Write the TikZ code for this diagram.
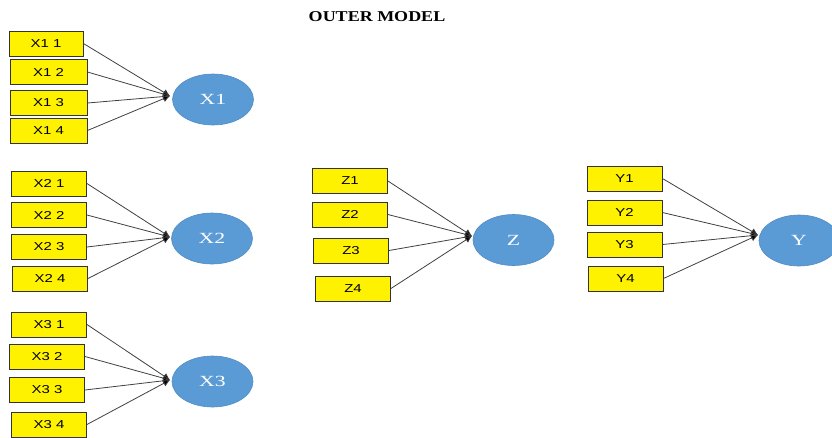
\documentclass[tikz,border=0pt]{standalone}
\usepackage{fontspec}
\setmainfont{Liberation Serif}
\newfontfamily\boxfont{Liberation Sans}
\usetikzlibrary{arrows.meta,shapes.geometric}
\definecolor{latentblue}{HTML}{5B9BD5}
\definecolor{latentedge}{HTML}{4F8CC4}
\tikzset{
  indicator/.style={draw=black!80, line width=0.9pt, fill=yellow, minimum width=75pt,
    minimum height=25pt, inner sep=0pt,
    font=\boxfont\fontsize{11.5}{13}\selectfont},
  latent/.style={ellipse, draw=latentedge, line width=0.6pt, fill=latentblue,
    minimum width=81pt, minimum height=51pt, inner sep=0pt, text=white,
    font=\fontsize{15.5}{17}\selectfont},
  loading/.style={draw=black!75, line width=0.8pt,
    -{Latex[length=7pt,width=7pt,fill=black]}},
}
\newcommand{\wide}[2]{\scalebox{#1}[1]{#2}}
\begin{document}
\begin{tikzpicture}[x=1pt,y=-1pt]
\useasboundingbox (0,0) rectangle (832,437);

% title
\node (title) at (377,17) {\bfseries\fontsize{15}{17}\selectfont\wide{1.2}{OUTER MODEL}};

% X1 block
\node[indicator, minimum width=74pt] (x11) at (46,43.5) {\wide{1.3}{X1 1}};
\node[indicator, minimum width=77pt] (x12) at (48.5,72) {\wide{1.3}{X1 2}};
\node[indicator, minimum width=77pt] (x13) at (48.5,103) {\wide{1.3}{X1 3}};
\node[indicator, minimum width=77pt] (x14) at (48.5,130.5) {\wide{1.3}{X1 4}};
\node[latent] (X1) at (213,99.5) {\wide{1.4}{X1}};
\coordinate (t1) at (170,96);

% X2 block
\node[indicator] (x21) at (49,183.5) {\wide{1.3}{X2 1}};
\node[indicator] (x22) at (49,215) {\wide{1.3}{X2 2}};
\node[indicator] (x23) at (49,247) {\wide{1.3}{X2 3}};
\node[indicator] (x24) at (50,278.5) {\wide{1.3}{X2 4}};
\node[latent] (X2) at (212,238.5) {\wide{1.4}{X2}};
\coordinate (t2) at (170,237);

% X3 block
\node[indicator] (x31) at (49,324.5) {\wide{1.3}{X3 1}};
\node[indicator] (x32) at (47,356.5) {\wide{1.3}{X3 2}};
\node[indicator] (x33) at (47,390) {\wide{1.3}{X3 3}};
\node[indicator] (x34) at (49,424.5) {\wide{1.3}{X3 4}};
\node[latent] (X3) at (212.5,381.5) {\wide{1.4}{X3}};
\coordinate (t3) at (170,380);

% Z block
\node[indicator] (z1) at (350,181) {\wide{1.3}{Z1}};
\node[indicator] (z2) at (350,214.5) {\wide{1.3}{Z2}};
\node[indicator] (z3) at (351,250.5) {\wide{1.3}{Z3}};
\node[indicator] (z4) at (353,288.5) {\wide{1.3}{Z4}};
\node[latent] (Z) at (513.5,240) {\wide{1.4}{Z}};
\coordinate (tz) at (472,236);

% Y block
\node[indicator] (y1) at (624.5,178.5) {\wide{1.3}{Y1}};
\node[indicator] (y2) at (624.5,212.5) {\wide{1.3}{Y2}};
\node[indicator] (y3) at (624.5,244.5) {\wide{1.3}{Y3}};
\node[indicator] (y4) at (625.5,278.5) {\wide{1.3}{Y4}};
\node[latent, minimum width=80pt] (Y) at (799,240.5) {\wide{1.4}{Y}};
\coordinate (ty) at (758,235);

% loadings
\foreach \i in {1,2,3,4}{
  \draw[loading] (x1\i.east) -- (t1);
  \draw[loading] (x2\i.east) -- (t2);
  \draw[loading] (x3\i.east) -- (t3);
  \draw[loading] (z\i.east) -- (tz);
  \draw[loading] (y\i.east) -- (ty);
}
\end{tikzpicture}
\end{document}
